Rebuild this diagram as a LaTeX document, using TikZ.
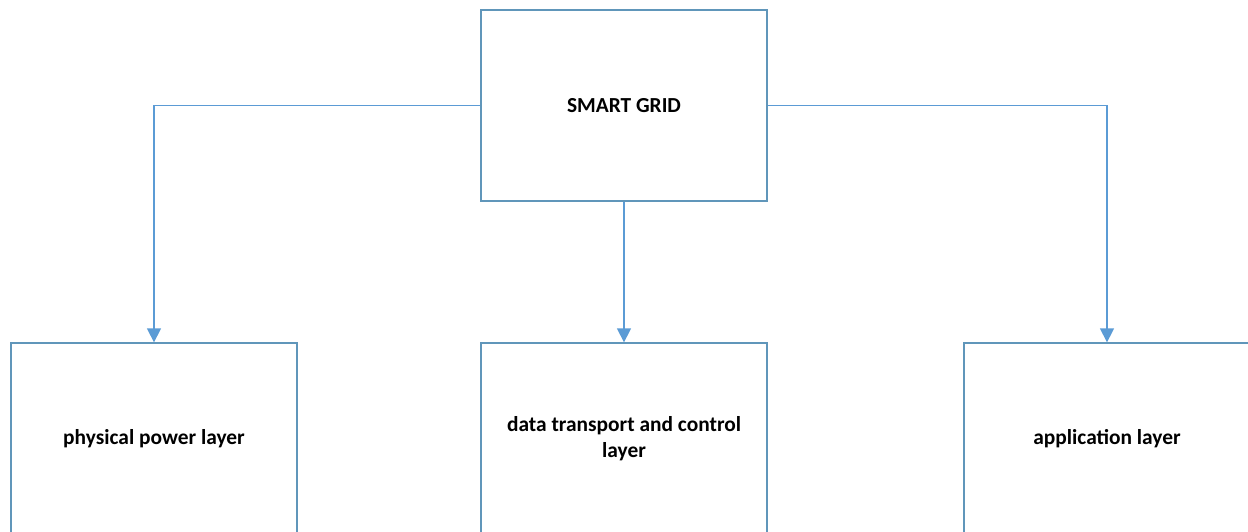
\documentclass[tikz,border=0pt]{standalone}
\usepackage{fontspec}
\setmainfont{Carlito}
\usetikzlibrary{arrows.meta, positioning}
\definecolor{boxBlue}{RGB}{96,150,186}
\definecolor{lineBlue}{RGB}{91,155,213}

\begin{document}
\begin{tikzpicture}[x=1pt, y=-1pt, >={Triangle[length=14pt, width=14pt]}]
    \useasboundingbox (0, 0) rectangle (1248, 531);
    \clip (0, 0) rectangle (1248, 531);
    \tikzset{
        layerbox/.style={draw=boxBlue, line width=1.3pt, minimum width=286pt, minimum height=191pt,
            align=center, font=\fontsize{21.4}{26}\selectfont\bfseries, inner sep=0pt},
        link/.style={draw=lineBlue, line width=1.3pt}
    }
    \node[layerbox] (grid) at (624, 105.5) {SMART GRID};
    \node[layerbox] (phys) at (154, 438.5) {physical power layer};
    \node[layerbox] (data) at (624, 438.5) {data transport and control\\layer};
    \node[layerbox] (app) at (1107, 438.5) {application layer};

    \draw[link, ->] (grid.west) -| (phys.north);
    \draw[link, ->] (grid.south) -- (data.north);
    \draw[link, ->] (grid.east) -| (app.north);
\end{tikzpicture}
\end{document}
